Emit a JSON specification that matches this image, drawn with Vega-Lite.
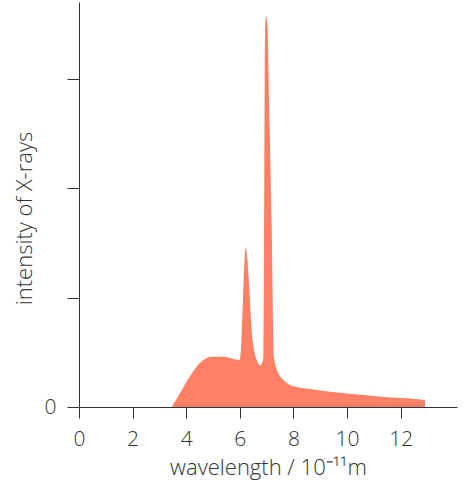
{
  "$schema": "https://vega.github.io/schema/vega-lite/v6.json",
  "width": 378,
  "height": 405,
  "autosize": {"type": "none"},
  "padding": {"left": 79, "top": 2, "right": 8, "bottom": 86},
  "config": {
    "view": {"stroke": null},
    "font": "Open Sans",
    "axis": {
      "domainColor": "#333333",
      "tickColor": "#333333",
      "labelColor": "#333333",
      "titleColor": "#333333",
      "grid": false,
      "labelFlush": false,
      "labelFont": "Open Sans",
      "titleFont": "Open Sans",
      "labelFontWeight": 300,
      "titleFontWeight": 300
    }
  },
  "data": {
    "values": [
      {"wl": 3.46, "i": 0},
      {"wl": 3.8, "i": 0.14},
      {"wl": 4.14, "i": 0.28},
      {"wl": 4.5, "i": 0.40},
      {"wl": 4.95, "i": 0.46},
      {"wl": 5.4, "i": 0.46},
      {"wl": 5.98, "i": 0.43},
      {"wl": 6.04, "i": 0.52},
      {"wl": 6.12, "i": 1.0},
      {"wl": 6.21, "i": 1.45},
      {"wl": 6.29, "i": 1.32},
      {"wl": 6.37, "i": 1.0},
      {"wl": 6.44, "i": 0.7},
      {"wl": 6.53, "i": 0.52},
      {"wl": 6.63, "i": 0.43},
      {"wl": 6.77, "i": 0.38},
      {"wl": 6.88, "i": 0.45},
      {"wl": 6.945, "i": 3.5},
      {"wl": 6.98, "i": 3.57},
      {"wl": 7.03, "i": 3.48},
      {"wl": 7.11, "i": 2.55},
      {"wl": 7.19, "i": 1.62},
      {"wl": 7.28, "i": 0.45},
      {"wl": 7.4, "i": 0.33},
      {"wl": 7.62, "i": 0.25},
      {"wl": 8.0, "i": 0.19},
      {"wl": 8.62, "i": 0.165},
      {"wl": 10.1, "i": 0.12},
      {"wl": 11.5, "i": 0.09},
      {"wl": 12.9, "i": 0.064},
      {"wl": 12.91, "i": 0}
    ]
  },
  "mark": {"type": "area", "color": "#FF8064", "interpolate": "monotone"},
  "encoding": {
    "x": {
      "field": "wl",
      "type": "quantitative",
      "scale": {"domain": [0, 14.1], "nice": false, "zero": false},
      "axis": {
        "values": [0, 2, 4, 6, 8, 10, 12],
        "title": "wavelength / 10⁻¹¹m",
        "tickSize": 11,
        "labelPadding": 10,
        "labelFontSize": 21,
        "titleFontSize": 22,
        "titleBaseline": "alphabetic",
        "titleY": 67
      }
    },
    "y": {
      "field": "i",
      "type": "quantitative",
      "scale": {"domain": [0, 3.7], "nice": false},
      "axis": {
        "values": [0, 1, 2, 3],
        "labelExpr": "datum.value == 0 ? '0' : ''",
        "labelAlign": "right",
        "labelBaseline": "middle",
        "title": "intensity of X-rays",
        "tickSize": 12,
        "labelPadding": 11,
        "labelFontSize": 21,
        "titleFontSize": 22,
        "titleAngle": -90,
        "titleBaseline": "middle",
        "titleAlign": "center",
        "titleX": -55,
        "titleY": 216
      }
    }
  }
}
